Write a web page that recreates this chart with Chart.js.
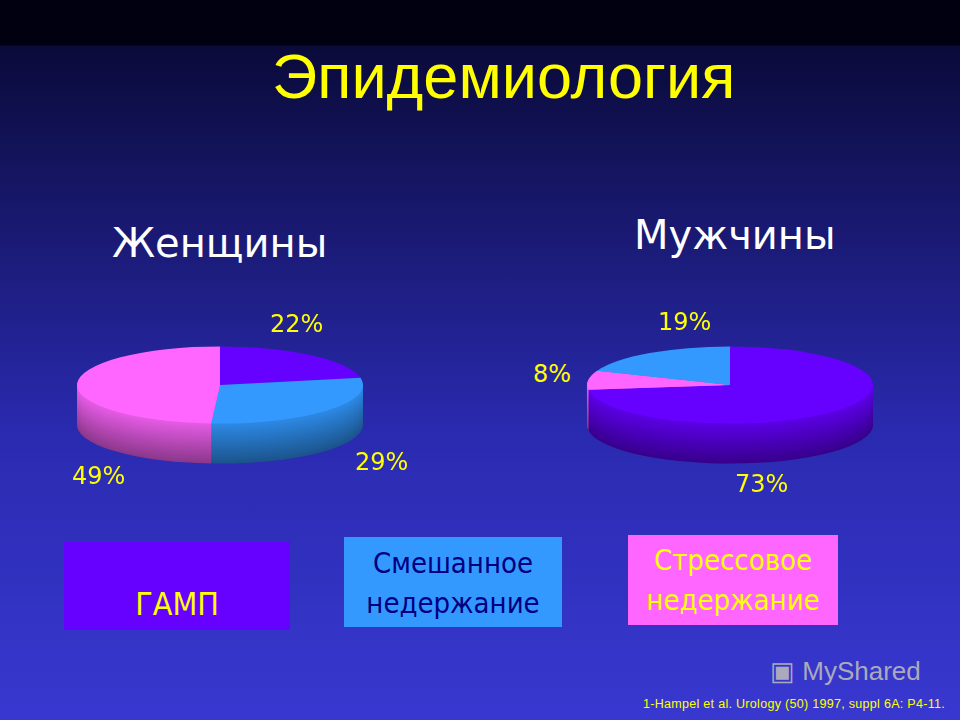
<!DOCTYPE html>
<html><head><meta charset="utf-8">
<script src="https://cdn.jsdelivr.net/npm/chart.js@4"></script>
<style>
body{margin:0;width:960px;height:720px;overflow:hidden;background:linear-gradient(#000010 0,#000010 45px,#0a0a3a 46px,#2a2ab0 60%,#3838d0 100%);font-family:"DejaVu Sans",sans-serif;position:relative}
.t{position:absolute;white-space:nowrap}
.c{position:absolute;width:300px;height:300px}
.box{position:absolute;font:29px/40px 'DejaVu Sans Condensed','DejaVu Sans',sans-serif;text-align:center;white-space:nowrap}
</style></head><body>
<div class="t" style="left:272px;top:40px;font:63px 'Liberation Sans';color:#ffff00">Эпидемиология</div>
<div class="t" style="left:112px;top:220px;font-size:40px;color:#fff">Женщины</div>
<div class="t" style="left:634px;top:212px;font-size:40px;color:#fff">Мужчины</div>
<div class="c" style="left:70px;top:235px"><canvas id="women"></canvas></div>
<div class="c" style="left:580px;top:235px"><canvas id="men"></canvas></div>
<div id="labels"></div>
<div class="box" style="left:64px;top:542px;width:226px;height:88px;background:#6600ff;color:#ffff00"><div style="margin-top:42px;font-size:32px">ГАМП</div></div>
<div class="box" style="left:344px;top:537px;width:218px;height:90px;background:#3399ff;color:#000080"><div style="margin-top:6px">Смешанное<br>недержание</div></div>
<div class="box" style="left:628px;top:535px;width:210px;height:90px;background:#ff66ff;color:#ffff00"><div style="margin-top:5px">Стрессовое<br>недержание</div></div>
<div class="t" style="left:643px;top:697px;font:12.5px 'Liberation Sans';color:#ffff00;letter-spacing:0.3px">1-Hampel et al. Urology (50) 1997, suppl 6A: P4-11.</div>
<div class="t" style="left:770px;top:656px;font:26px 'Liberation Sans';color:#aab">▣ MyShared</div>
<script>
const womenValues = [22, 29, 49];
const womenColors = ['#6600ff', '#3399ff', '#ff66ff'];
const menValues = [73, 8, 19];
const menColors = ['#6600ff', '#ff66ff', '#3399ff'];
const womenLabelPos = [[270, 310], [355, 448], [72, 462]];
const menLabelPos = [[735, 470], [533, 360], [658, 308]];

const TILT = 0.27, DEPTH = 40;
const dark = (hex, f) => {
  const n = parseInt(hex.slice(1), 16);
  const r = Math.round(((n >> 16) & 255) * f), g = Math.round(((n >> 8) & 255) * f), b = Math.round((n & 255) * f);
  return `rgb(${r},${g},${b})`;
};

const tilt3d = {
  id: 'tilt3d',
  beforeDatasetsDraw(chart) {
    const ctx = chart.ctx;
    const meta = chart.getDatasetMeta(0);
    const cx = chart.chartArea.left + chart.chartArea.width / 2;
    const cy = chart.chartArea.top + chart.chartArea.height / 2;
    for (let d = DEPTH; d > 0; d--) {
      ctx.save();
      ctx.translate(cx, cy + d);
      ctx.scale(1, TILT);
      ctx.translate(-cx, -cy);
      meta.data.forEach((arc, i) => {
        const col = chart.data.datasets[0].backgroundColor[i];
        ctx.fillStyle = dark(col, 0.55 + 0.35 * (1 - d / DEPTH));
        ctx.beginPath();
        ctx.moveTo(arc.x, arc.y);
        ctx.arc(arc.x, arc.y, arc.outerRadius, arc.startAngle, arc.endAngle);
        ctx.closePath();
        ctx.fill();
      });
      ctx.restore();
    }
    ctx.save();
    ctx.translate(cx, cy);
    ctx.scale(1, TILT);
    ctx.translate(-cx, -cy);
  },
  afterDatasetsDraw(chart) { chart.ctx.restore(); }
};

const makePie = (id, values, colors) => new Chart(document.getElementById(id), {
  type: 'pie',
  data: { datasets: [{ data: values, backgroundColor: colors, borderWidth: 0 }] },
  options: {
    responsive: false, animation: false, layout: { padding: 7 },
    plugins: { legend: { display: false }, tooltip: { enabled: false } }
  },
  plugins: [tilt3d]
});

document.getElementById('women').width = 300; document.getElementById('women').height = 300;
document.getElementById('men').width = 300; document.getElementById('men').height = 300;
makePie('women', womenValues, womenColors);
makePie('men', menValues, menColors);

const labels = document.getElementById('labels');
const addLabels = (values, pos) => values.forEach((v, i) => {
  const el = document.createElement('div');
  el.className = 't';
  el.style.cssText = `left:${pos[i][0]}px;top:${pos[i][1]}px;font-size:24px;color:#ffff00`;
  el.textContent = v + '%';
  labels.appendChild(el);
});
addLabels(womenValues, womenLabelPos);
addLabels(menValues, menLabelPos);
</script>
</body></html>
